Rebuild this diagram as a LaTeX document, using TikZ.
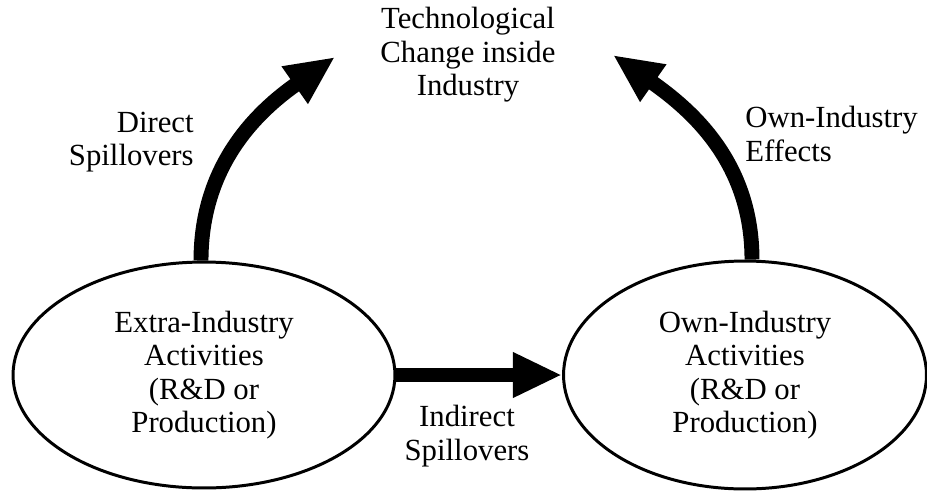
\documentclass[tikz,border=0pt]{standalone}
\usepackage{fontspec}
\setmainfont{Liberation Serif}
\usetikzlibrary{shapes,arrows.meta,positioning}
\tikzstyle{activity} = [ellipse, draw, line width=1.7pt, align=center,
    inner sep=0pt]
\tikzstyle{tag} = [align=center, inner sep=0pt]
\tikzstyle{flow} = [draw, line width=8.5pt, -{Triangle[length=28pt, width=24pt]}]

\begin{document}
\begin{tikzpicture}[x=0.02cm, y=-0.02cm, font=\fontsize{17.5}{19}\selectfont]
    \useasboundingbox (0,0) rectangle (927,491);
    % Place activity ellipses
    \node [activity, minimum width=7.64cm, minimum height=4.52cm] (extra) at (204,375)
        {Extra-Industry\\Activities\\(R\&D or\\Production)};
    \node [activity, minimum width=7.26cm, minimum height=4.56cm] (own) at (745,375)
        {Own-Industry\\Activities\\(R\&D or\\Production)};

    % Place target, tips and labels
    \node [tag] (change) at (468,55) {Technological\\Change inside\\Industry};
    \coordinate (dtip) at (335,57);
    \coordinate (otip) at (613,55);
    \node [tag, align=right, anchor=east] (direct) at (194,142) {Direct\\Spillovers};
    \node [tag, align=left, anchor=west] (effects) at (745,134) {Own-Industry\\Effects};
    \node [tag] (indirect) at (467,436) {Indirect\\Spillovers};

    % Draw edges
    \path [flow] ([xshift=-0.06cm]extra.north) to [out=90, in=215] (dtip);
    \path [flow] ([xshift=0.14cm]own.north) to [out=90, in=-35] (otip);
    \path [flow] (extra.east) -- (own.west);
\end{tikzpicture}
\end{document}
